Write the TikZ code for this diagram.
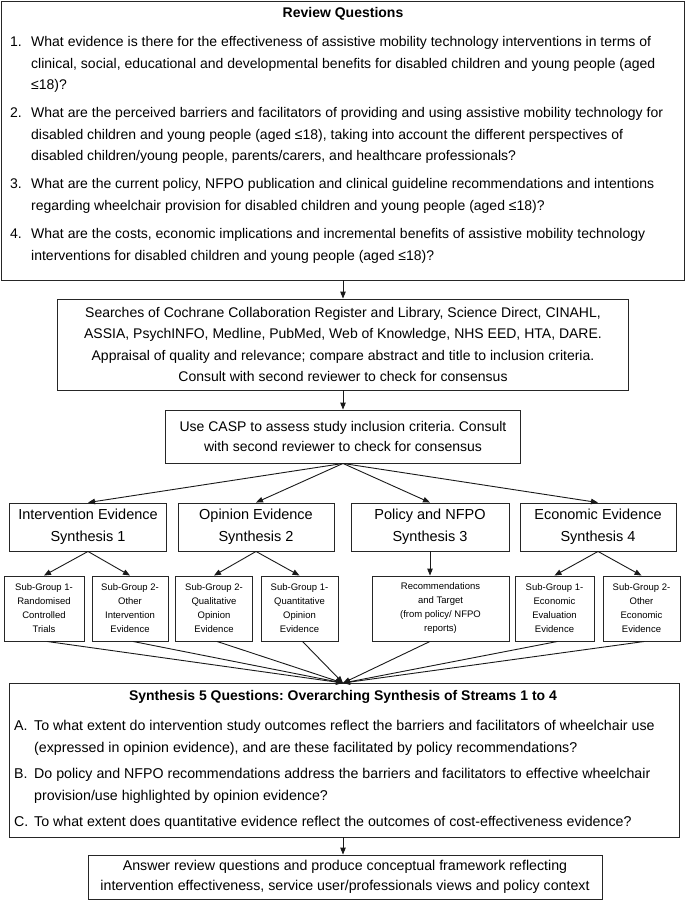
\documentclass[tikz,border=0pt]{standalone}
\usepackage{fontspec}
\setmainfont{Liberation Sans}
\usetikzlibrary{arrows.meta}
\frenchspacing
\begin{document}
\frenchspacing
\begin{tikzpicture}[x=1pt,y=-1pt,
  frame/.style={draw=black!85, line width=0.9pt, inner sep=0pt},
  bigtxt/.style={font=\fontsize{14}{21.5}\selectfont, align=center},
  syntxt/.style={font=\fontsize{14.5}{22}\selectfont, align=center},
  subtxt/.style={font=\fontsize{9.5}{14}\selectfont, align=center},
  itemtxt/.style={anchor=north west, inner sep=0pt, align=left, font=\fontsize{14}{21.5}\selectfont},
  s5item/.style={anchor=north west, inner sep=0pt, align=left, font=\fontsize{14.2}{21.5}\selectfont},
  arr/.style={-{Triangle[length=7pt,width=5.5pt]}, line width=0.9pt, draw=black!90},
  ]
\useasboundingbox (0,0) rectangle (685,905);

% Review questions
\node[frame, minimum width=683pt, minimum height=279pt] (rq) at (342.5,140.5) {};
\node[inner sep=0pt, font=\fontsize{14}{22}\selectfont\bfseries] (rqtitle) at (343,14) {Review Questions};
\node[itemtxt] (q1) at (10,36.3) {\makebox[21pt][l]{1.}What evidence is there for the effectiveness of assistive mobility technology interventions in terms of\\\hspace*{21pt}clinical, social, educational and developmental benefits for disabled children and young people (aged\\\hspace*{21pt}≤18)?};
\node[itemtxt] (q2) at (10,107.3) {\makebox[21pt][l]{2.}What are the perceived barriers and facilitators of providing and using assistive mobility technology for\\\hspace*{21pt}disabled children and young people (aged ≤18), taking into account the different perspectives of\\\hspace*{21pt}disabled children/young people, parents/carers, and healthcare professionals?};
\node[itemtxt] (q3) at (10,178.3) {\makebox[21pt][l]{3.}What are the current policy, NFPO publication and clinical guideline recommendations and intentions\\\hspace*{21pt}regarding wheelchair provision for disabled children and young people (aged ≤18)?};
\node[itemtxt] (q4) at (10,228.3) {\makebox[21pt][l]{4.}What are the costs, economic implications and incremental benefits of assistive mobility technology\\\hspace*{21pt}interventions for disabled children and young people (aged ≤18)?};

% Searches
\node[frame, minimum width=571pt, minimum height=91pt, bigtxt] (search) at (343,344.5)
 {Searches of Cochrane Collaboration Register and Library, Science Direct, CINAHL,\\ASSIA, PsychINFO, Medline, PubMed, Web of Knowledge, NHS EED, HTA, DARE.\\Appraisal of quality and relevance; compare abstract and title to inclusion criteria.\\Consult with second reviewer to check for consensus};

% CASP
\node[frame, minimum width=355pt, minimum height=53pt, font=\fontsize{14}{20.5}\selectfont, align=center] (casp) at (343,436.5)
 {Use CASP to assess study inclusion criteria. Consult\\with second reviewer to check for consensus};

% Synthesis streams
\node[frame, minimum width=157pt, minimum height=48pt, syntxt] (syn1) at (88,527) {Intervention Evidence\\Synthesis 1};
\node[frame, minimum width=156pt, minimum height=48pt, syntxt] (syn2) at (256,527) {Opinion Evidence\\Synthesis 2};
\node[frame, minimum width=158pt, minimum height=48pt, syntxt] (syn3) at (430,527) {Policy and NFPO\\Synthesis 3};
\node[frame, minimum width=156pt, minimum height=48pt, syntxt] (syn4) at (598,527) {Economic Evidence\\Synthesis 4};

% Sub-groups
\node[frame, minimum width=80pt, minimum height=65pt, subtxt] (sg1) at (44,608.5) {Sub-Group 1-\\Randomised\\Controlled\\Trials};
\node[frame, minimum width=76pt, minimum height=65pt, subtxt] (sg2) at (130,608.5) {Sub-Group 2-\\Other\\Intervention\\Evidence};
\node[frame, minimum width=77pt, minimum height=65pt, subtxt] (sg3) at (214,608.5) {Sub-Group 2-\\Qualitative\\Opinion\\Evidence};
\node[frame, minimum width=77pt, minimum height=65pt, subtxt] (sg4) at (299.5,608.5) {Sub-Group 1-\\Quantitative\\Opinion\\Evidence};
\node[frame, minimum width=137pt, minimum height=65pt, subtxt] (sg5) at (440.5,608.5) {Recommendations\\and Target\\(from policy/ NFPO\\reports)};
\node[frame, minimum width=79pt, minimum height=65pt, subtxt] (sg6) at (554.5,608.5) {Sub-Group 1-\\Economic\\Evaluation\\Evidence};
\node[frame, minimum width=77pt, minimum height=65pt, subtxt] (sg7) at (641.5,608.5) {Sub-Group 2-\\Other\\Economic\\Evidence};

% Synthesis 5
\node[frame, minimum width=670pt, minimum height=154pt] (s5) at (344,760) {};
\node[inner sep=0pt, font=\fontsize{14}{22}\selectfont\bfseries] (s5title) at (343,696.5) {Synthesis 5 Questions: Overarching Synthesis of Streams 1 to 4};
\node[s5item] (qa) at (14,720.3) {\makebox[20pt][l]{A.}To what extent do intervention study outcomes reflect the barriers and facilitators of wheelchair use\\\hspace*{20pt}(expressed in opinion evidence), and are these facilitated by policy recommendations?};
\node[s5item] (qb) at (14,768.3) {\makebox[20pt][l]{B.}Do policy and NFPO recommendations address the barriers and facilitators to effective wheelchair\\\hspace*{20pt}provision/use highlighted by opinion evidence?};
\node[s5item] (qc) at (14,816.3) {\makebox[20pt][l]{C.}To what extent does quantitative evidence reflect the outcomes of cost-effectiveness evidence?};

% Final
\node[frame, minimum width=514pt, minimum height=44pt, font=\fontsize{14.2}{20}\selectfont, align=center] (final) at (345,877)
 {Answer review questions and produce conceptual framework reflecting\\intervention effectiveness, service user/professionals views and policy context};

% Connectors
\draw[arr] (rq.south -| search.north) -- (search.north);
\draw[arr] (search) -- (casp);
\foreach \t in {syn1,syn2,syn3,syn4} \draw[arr] (casp.south) -- (\t.north);
\draw[arr] (syn1.south) -- (sg1.north);
\draw[arr] (syn1.south) -- (sg2.north);
\draw[arr] (syn2.south) -- (sg3.north);
\draw[arr] (syn2.south) -- (sg4.north);
\draw[arr] (syn3.south) -- (syn3.south |- sg5.north);
\draw[arr] (syn4.south) -- (sg6.north);
\draw[arr] (syn4.south) -- (sg7.north);
\coordinate (conv) at (343,683);
\foreach \s in {sg1,sg2,sg3,sg4,sg6,sg7} \draw[arr] ([xshift=3pt]\s.south) -- (conv);
\draw[arr] (syn3.south |- sg5.south) -- (conv);
\draw[arr] (conv |- s5.south) -- (conv |- final.north);
\end{tikzpicture}
\end{document}
